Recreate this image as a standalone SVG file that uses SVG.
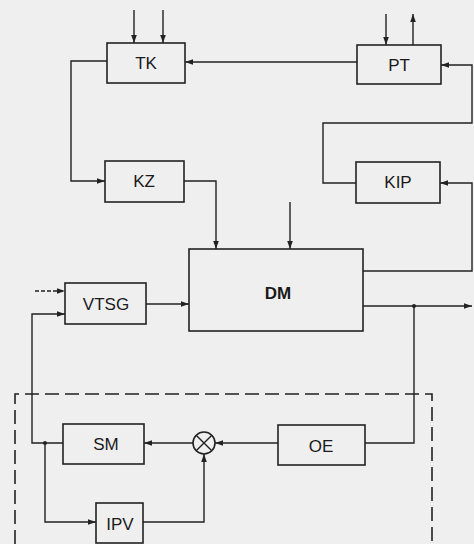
<svg xmlns="http://www.w3.org/2000/svg" width="474" height="544" viewBox="0 0 474 544">
<defs>
<marker id="ah" viewBox="0 0 10 10" refX="10" refY="5" markerWidth="8" markerHeight="8" markerUnits="userSpaceOnUse" orient="auto">
<path d="M0,1.5 L10,5 L0,8.5 Z" fill="#222"/>
</marker>
</defs>
<style>
.box{fill:none;stroke:#222;stroke-width:1.6}
.ln{fill:none;stroke:#222;stroke-width:1.4}
.dash{fill:none;stroke:#222;stroke-width:1.6;stroke-dasharray:14 6}
.lbl{font-family:"Liberation Sans",Arial,sans-serif;font-size:17px;fill:#1a1a1a;text-anchor:middle;dominant-baseline:central}
</style>
<rect width="474" height="544" fill="#efefef"/>
<g id="connectors">
<path class="ln" d="M134,10 V43" marker-end="url(#ah)"/>
<path class="ln" d="M163,10 V43" marker-end="url(#ah)"/>
<path class="ln" d="M386,14 V45" marker-end="url(#ah)"/>
<path class="ln" d="M413,45 V14" marker-end="url(#ah)"/>
<path class="ln" d="M357,62 H185" marker-end="url(#ah)"/>
<path class="ln" d="M107,61 H71 V181 H105" marker-end="url(#ah)"/>
<path class="ln" d="M184,181 H216 V249" marker-end="url(#ah)"/>
<path class="ln" d="M290,202 V249" marker-end="url(#ah)"/>
<path class="ln" d="M356,183 H323 V123 H472 V65 H441" marker-end="url(#ah)"/>
<path class="ln" d="M363,271 H472 V183 H440" marker-end="url(#ah)"/>
<path class="ln" d="M363,306 H472" marker-end="url(#ah)"/>
<circle cx="414" cy="306" r="2" fill="#222"/>
<path class="ln" d="M414,306 V443 H365"/>
<path class="ln" d="M146,304 H189" marker-end="url(#ah)"/>
<path class="ln" d="M35,291 H65" stroke-dasharray="4 2" marker-end="url(#ah)"/>
<path class="ln" d="M278,443 H215" marker-end="url(#ah)"/>
<path class="ln" d="M193,443 H144" marker-end="url(#ah)"/>
<path class="ln" d="M63,443 H32 V314 H65" marker-end="url(#ah)"/>
<circle cx="45" cy="443" r="2" fill="#222"/>
<path class="ln" d="M45,443 V522 H96" marker-end="url(#ah)"/>
<path class="ln" d="M143,522 H204 V454" marker-end="url(#ah)"/>
<path class="dash" d="M15,544 V394 H432 V544"/>
</g>
<g id="TK"><rect class="box" x="107" y="43" width="78" height="40"/><text class="lbl" x="146" y="63">TK</text></g>
<g id="PT"><rect class="box" x="357" y="45" width="84" height="39"/><text class="lbl" x="399" y="65">PT</text></g>
<g id="KZ"><rect class="box" x="105" y="161" width="79" height="41"/><text class="lbl" x="144" y="181">KZ</text></g>
<g id="KIP"><rect class="box" x="356" y="162" width="84" height="41"/><text class="lbl" x="398" y="182">KIP</text></g>
<g id="DM"><rect class="box" x="189" y="249" width="174" height="82"/><text class="lbl" x="278" y="293" font-weight="bold">DM</text></g>
<g id="VTSG"><rect class="box" x="65" y="283" width="81" height="41"/><text class="lbl" x="106" y="304">VTSG</text></g>
<g id="SM"><rect class="box" x="63" y="424" width="81" height="40"/><text class="lbl" x="106" y="444">SM</text></g>
<g id="OE"><rect class="box" x="278" y="425" width="87" height="40"/><text class="lbl" x="321" y="446">OE</text></g>
<g id="IPV"><rect class="box" x="96" y="503" width="47" height="40"/><text class="lbl" x="120" y="524">IPV</text></g>
<g id="SUM"><circle cx="204" cy="443" r="11" fill="none" stroke="#222" stroke-width="1.6"/><path class="ln" d="M196.2,435.2 L211.8,450.8 M211.8,435.2 L196.2,450.8"/></g>
</svg>
